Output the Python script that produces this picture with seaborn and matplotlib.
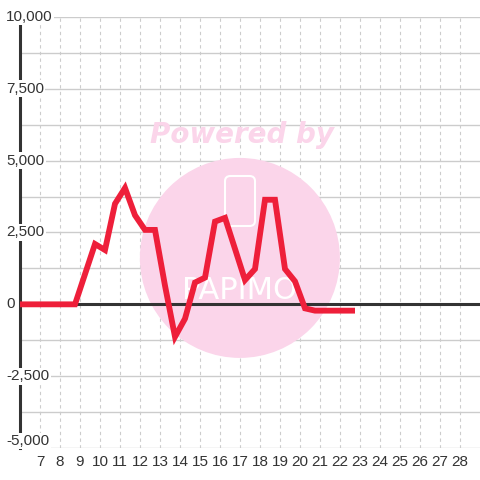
import numpy as np
import pandas as pd
import matplotlib
matplotlib.use("Agg")
import matplotlib.pyplot as plt
from matplotlib.patches import Ellipse, FancyBboxPatch
from matplotlib.ticker import MultipleLocator, NullLocator
import seaborn as sns

# ── data ──────────────────────────────────────────────────────────────────────
x_pos = [5.75, 6.25, 6.75, 7.25, 7.75, 8.25, 8.75, 9.25, 9.75, 10.25,
         10.75, 11.25, 11.75, 12.25, 12.75, 13.25, 13.75, 14.25, 14.75, 15.25,
         15.75, 16.25, 16.75, 17.25, 17.75, 18.25, 18.75, 19.25, 19.75, 20.25,
         20.75, 21.25, 21.75, 22.25, 22.75]
values = [0, 0, 0, 0, 0, 0, 0, 1050, 2100, 1890,
          3500, 4050, 3100, 2590, 2590, 650, -1130, -500, 760, 930,
          2880, 3010, 1930, 845, 1230, 3640, 3640, 1230, 800, -140,
          -220, -220, -220, -220, -220]
x_ticks = list(range(7, 29))
y_ticks = [-5000, -2500, 0, 2500, 5000, 7500, 10000]

LINE_RED = "#ee1f3a"
DARK = "#333333"
GRID = "#cccccc"
PINK = "#fbd5ea"

sns.set_theme(style="white")
plt.rcParams["font.family"] = ["Liberation Sans", "DejaVu Sans"]

fig = plt.figure(figsize=(4.8, 4.8), dpi=100)
ax = fig.add_axes([20 / 480, 32 / 480, 460 / 480, 431 / 480])

df = pd.DataFrame({"x": x_pos, "y": values})

# watermark
ax.add_patch(Ellipse((0.478, 0.441), 200 / 460, 200 / 431, transform=ax.transAxes,
                     facecolor=PINK, edgecolor="none", zorder=1))
ax.text(0.483, 0.726, "Powered by", transform=ax.transAxes, ha="center", va="center",
        fontsize=20, fontweight="heavy", style="italic", color=PINK, zorder=1,
        family="DejaVu Sans")
ax.add_patch(FancyBboxPatch((205 / 460, 222 / 431), 30 / 460, 50 / 431,
                            boxstyle="round,pad=0,rounding_size=0.012",
                            transform=ax.transAxes, facecolor="none", edgecolor="white",
                            lw=1.5, zorder=1))
ax.text(0.478, 0.366, "PAPIMO", transform=ax.transAxes, ha="center", va="center",
        fontsize=22, color="white", zorder=1, family="DejaVu Sans")

ax.axhline(0, color=DARK, lw=2.2, zorder=3)
sns.lineplot(data=df, x="x", y="y", ax=ax, color=LINE_RED, lw=4.2, zorder=4,
             solid_joinstyle="miter", solid_capstyle="butt")

ax.set_xlim(6, 29)
ax.set_ylim(-5000, 10000)
ax.set_xlabel("")
ax.set_ylabel("")

ax.set_xticks(x_ticks)
ax.xaxis.set_minor_locator(NullLocator())
ax.set_yticks(y_ticks)
ax.yaxis.set_minor_locator(MultipleLocator(1250))
ax.set_yticklabels([])

ax.grid(True, axis="y", which="both", color=GRID, lw=1)
ax.grid(True, axis="x", which="major", color=GRID, lw=0.8, ls=(0, (3, 3)))
ax.tick_params(axis="both", which="both", length=0, labelsize=11, labelcolor=DARK)
ax.tick_params(axis="x", pad=5)

# y labels sit over the axis line on a white box, left aligned
ytrans = ax.get_yaxis_transform()
for v in y_ticks:
    ax.text(-14 / 460, v, f"{v:,}", transform=ytrans, ha="left",
            va="bottom" if v == y_ticks[0] else "center",
            fontsize=11, color=DARK, zorder=5, clip_on=False,
            bbox=dict(facecolor="white", edgecolor="none", pad=1))

for s in ["top", "right", "bottom"]:
    ax.spines[s].set_visible(False)
ax.spines["left"].set_color(DARK)
ax.spines["left"].set_linewidth(2.2)

fig.savefig("out.png", dpi=100)
